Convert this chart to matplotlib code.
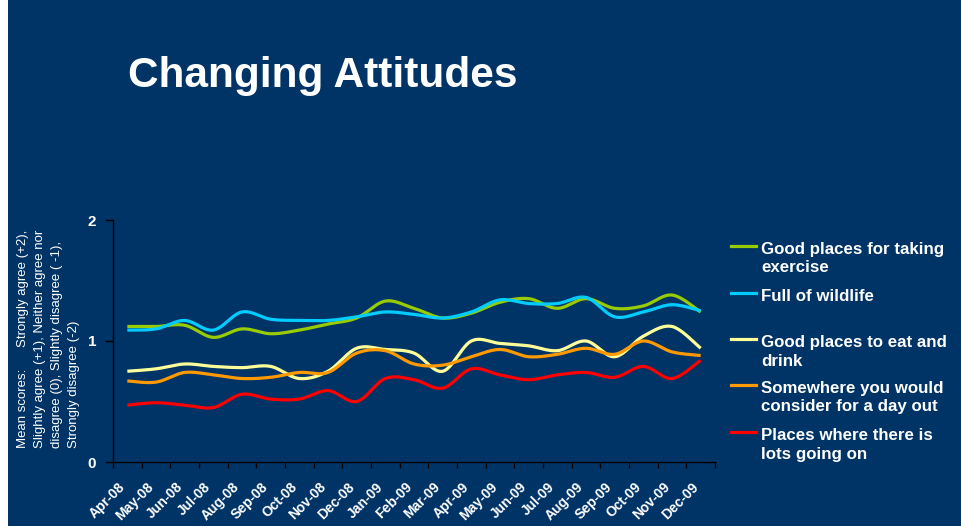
import numpy as np
import matplotlib
matplotlib.use("Agg")
import matplotlib.pyplot as plt
from matplotlib.lines import Line2D
from matplotlib.patches import Rectangle

# ---- data -------------------------------------------------------------
months = ["Apr-08", "May-08", "Jun-08", "Jul-08", "Aug-08", "Sep-08", "Oct-08",
          "Nov-08", "Dec-08", "Jan-09", "Feb-09", "Mar-09", "Apr-09", "May-09",
          "Jun-09", "Jul-09", "Aug-09", "Sep-09", "Oct-09", "Nov-09", "Dec-09"]

exercise = [1.12, 1.12, 1.13, 1.03, 1.10, 1.06, 1.09, 1.14, 1.19, 1.33, 1.27,
            1.19, 1.23, 1.32, 1.35, 1.27, 1.35, 1.27, 1.29, 1.38, 1.24]
wildlife = [1.09, 1.10, 1.17, 1.09, 1.24, 1.18, 1.17, 1.17, 1.20, 1.24, 1.22,
            1.19, 1.24, 1.34, 1.31, 1.31, 1.36, 1.20, 1.24, 1.30, 1.25]
eat_drink = [0.75, 0.77, 0.81, 0.79, 0.78, 0.79, 0.69, 0.75, 0.94, 0.93, 0.90,
             0.75, 1.00, 0.98, 0.96, 0.92, 1.00, 0.87, 1.04, 1.12, 0.94]
day_out = [0.67, 0.66, 0.74, 0.72, 0.69, 0.70, 0.74, 0.74, 0.90, 0.92, 0.81,
           0.80, 0.87, 0.93, 0.87, 0.89, 0.94, 0.89, 1.00, 0.91, 0.88]
going_on = [0.47, 0.49, 0.47, 0.45, 0.56, 0.52, 0.52, 0.59, 0.50, 0.69, 0.68,
            0.61, 0.77, 0.72, 0.68, 0.72, 0.74, 0.70, 0.79, 0.69, 0.84]

series_names = ["Good places for taking\nexercise",
                "Full of wildlife",
                "Good places to eat and\ndrink",
                "Somewhere you would\nconsider for a day out",
                "Places where there is\nlots going on"]
series_values = [exercise, wildlife, eat_drink, day_out, going_on]
series_colors = ["#99CC00", "#00CCFF", "#FFFF99", "#FF9900", "#FF0000"]

y_ticks = [0, 1, 2]

# ---- helpers ----------------------------------------------------------
W, H = 962, 526
NAVY = "#003366"


def fx(px):
    return px / W


def fy(py):
    return 1 - py / H


def smooth_curve(xs, ys, steps=24):
    """Cubic Bezier smoothing through every point (spreadsheet-style)."""
    pts = np.column_stack([xs, ys]).astype(float)
    out = [pts[0]]
    t = np.linspace(0, 1, steps)[1:, None]
    n = len(pts)
    for i in range(n - 1):
        p0 = pts[i - 1] if i > 0 else pts[i]
        p1, p2 = pts[i], pts[i + 1]
        p3 = pts[i + 2] if i + 2 < n else pts[i + 1]
        c1 = p1 + (p2 - p0) / 6
        c2 = p2 - (p3 - p1) / 6
        seg = ((1 - t) ** 3) * p1 + 3 * ((1 - t) ** 2) * t * c1 \
            + 3 * (1 - t) * t ** 2 * c2 + t ** 3 * p2
        out.extend(seg)
    out = np.array(out)
    return out[:, 0], out[:, 1]


# ---- figure -----------------------------------------------------------
plt.rcParams["font.family"] = ["Liberation Sans", "DejaVu Sans"]

fig = plt.figure(figsize=(W / 100, H / 100), dpi=100, facecolor=NAVY)
fig.add_artist(Rectangle((0, 0), fx(8), 1, transform=fig.transFigure,
                         facecolor="white", edgecolor="none", zorder=0))

ax = fig.add_axes([fx(113), fy(462), fx(715) - fx(113), fy(220) - fy(462)])
ax.set_facecolor(NAVY)

x = np.arange(len(months))
for vals, col in zip(series_values, series_colors):
    sx, sy = smooth_curve(x, vals)
    ax.plot(sx, sy, color=col, lw=2.3, solid_capstyle="butt")

ax.set_xlim(-0.5, len(months) - 0.5)
ax.set_ylim(0, 2)

# category boundaries carry the tick marks; labels sit just left of centre
ax.set_xticks(np.arange(-0.5, len(months), 1.0))
ax.set_xticklabels([])
ax.tick_params(axis="x", which="major", length=4, width=1, color="black",
               direction="out")
ax.set_xticks(x - 0.33, minor=True)
ax.set_xticklabels(months, minor=True, rotation=45, ha="right",
                   rotation_mode="anchor", fontsize=10, fontweight="bold",
                   color="white")
ax.tick_params(axis="x", which="minor", length=0, pad=13)

ax.set_yticks(y_ticks)
ax.set_yticklabels([str(v) for v in y_ticks], fontsize=11, fontweight="bold",
                   color="white")
ax.tick_params(axis="y", length=6, width=1, color="black", direction="out",
               pad=6)

for side in ("top", "right"):
    ax.spines[side].set_visible(False)
for side in ("left", "bottom"):
    ax.spines[side].set_color("black")
    ax.spines[side].set_linewidth(1)

# title
fig.text(fx(128), fy(87), "Changing Attitudes", fontsize=30.5,
         fontweight="bold", color="white", ha="left", va="baseline")

# y-axis description
fig.text(fx(17), fy(448),
         "Mean scores:      Strongly agree (+2),\n"
         "Slightly agree (+1), Neither agree nor\n"
         "disagree (0), Slightly disagree ( -1),\n"
         "Strongly disagree (-2)",
         rotation=90, ha="left", va="bottom", multialignment="left",
         fontsize=9.5, color="white", linespacing=1.55)

# legend (first text line baseline sits 8 px below its swatch)
legend_rows = [246, 293, 339, 385, 432]
line_step = 18.5
for name, col, ly in zip(series_names, series_colors, legend_rows):
    fig.add_artist(Line2D([fx(731), fx(756)], [fy(ly), fy(ly)],
                          color=col, lw=2.3, transform=fig.transFigure))
    n_lines = name.count("\n") + 1
    fig.text(fx(761), fy(ly + 8 + line_step * (n_lines - 1)), name,
             fontsize=12.2, fontweight="bold", color="white", ha="left",
             va="baseline", linespacing=1.31)

fig.savefig("out.png", dpi=100, facecolor=NAVY)
